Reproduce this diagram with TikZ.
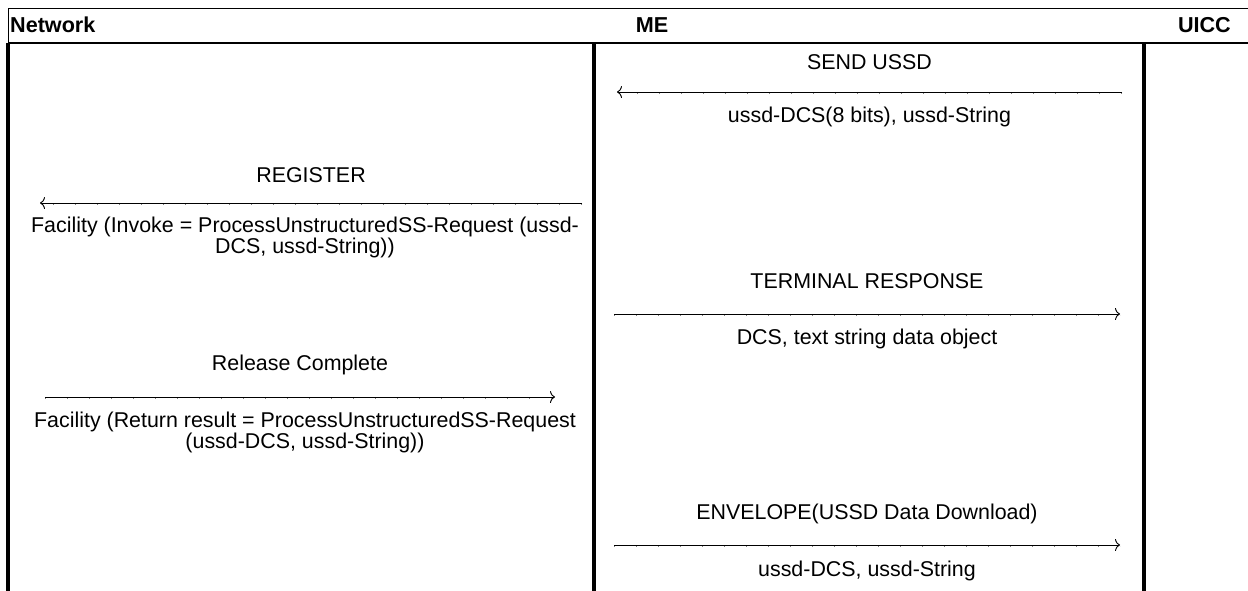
\documentclass[tikz,border=0pt]{standalone}
\usepackage{fontspec}
\setmainfont{Liberation Sans}
\usetikzlibrary{positioning,arrows.meta}

\tikzset{
  lifeline/.style={line width=4pt},
  msg/.style={line width=0.9pt, -{To[length=5pt,width=12pt]},
    postaction={draw, -, gray, line width=0.8pt, dash pattern=on 1pt off 21pt,
      transform canvas={yshift=-1pt}}},
  hdr/.style={font=\fontsize{21.6}{22}\selectfont\bfseries, inner sep=0pt, anchor=base},
  lbl/.style={inner sep=0pt, align=center}
}

\begin{document}
\begin{tikzpicture}[x=1pt, y=-1pt, font=\fontsize{21.4}{21}\selectfont]

\useasboundingbox (0,0) rectangle (1248,590);

% header
\draw[line width=1pt] (1260,8) -- (8,8) -- (8,43);
\draw[line width=2.5pt] (8,43) -- (1260,43);
\node[hdr, anchor=base west] (network) at (10,32) {Network};
\node[hdr] (me) at (652,32) {ME};
\node[hdr, anchor=base east] (uicc) at (1231,32) {UICC};

% lifelines
\foreach \n/\x in {net/8, me/594, uicc/1144}
{
  \coordinate (\n-top) at (\x,43);
  \coordinate (\n-bot) at (\x,592);
  \draw[lifeline] (\n-top) -- (\n-bot);
}

% messages
\foreach \m/\xa/\xb/\y in {send/1122/617/92, reg/582/40/203, tr/614/1120/314, rel/45/555/397, env/614/1120/545}
{
  \coordinate (\m-from) at (\xa,\y);
  \coordinate (\m-to) at (\xb,\y);
  \draw[msg] (\m-from) -- coordinate (\m-mid) (\m-to);
}

% names
\foreach \m/\d/\l in {send/23/SEND USSD, reg/21/REGISTER, tr/26/TERMINAL RESPONSE, rel/27/Release Complete, env/26/ENVELOPE(USSD Data Download)}
  \node[lbl, anchor=base, yshift=\d pt] (\m-name) at (\m-mid) {\l};

% contents
\node[lbl, anchor=north, yshift=-15pt] (send-data) at (send-mid) {ussd-DCS(8 bits), ussd-String};
\node[lbl, anchor=north, yshift=-14pt, xshift=-6pt] (reg-data) at (reg-mid)
  {Facility (Invoke = ProcessUnstructuredSS-Request (ussd-\\DCS, ussd-String))};
\node[lbl, anchor=north, yshift=-15pt] (tr-data) at (tr-mid) {DCS, text string data object};
\node[lbl, anchor=north, yshift=-15pt, xshift=5pt] (rel-data) at (rel-mid)
  {Facility (Return result = ProcessUnstructuredSS-Request\\(ussd-DCS, ussd-String))};
\node[lbl, anchor=north, yshift=-16pt] (env-data) at (env-mid) {ussd-DCS, ussd-String};

\end{tikzpicture}
\end{document}
